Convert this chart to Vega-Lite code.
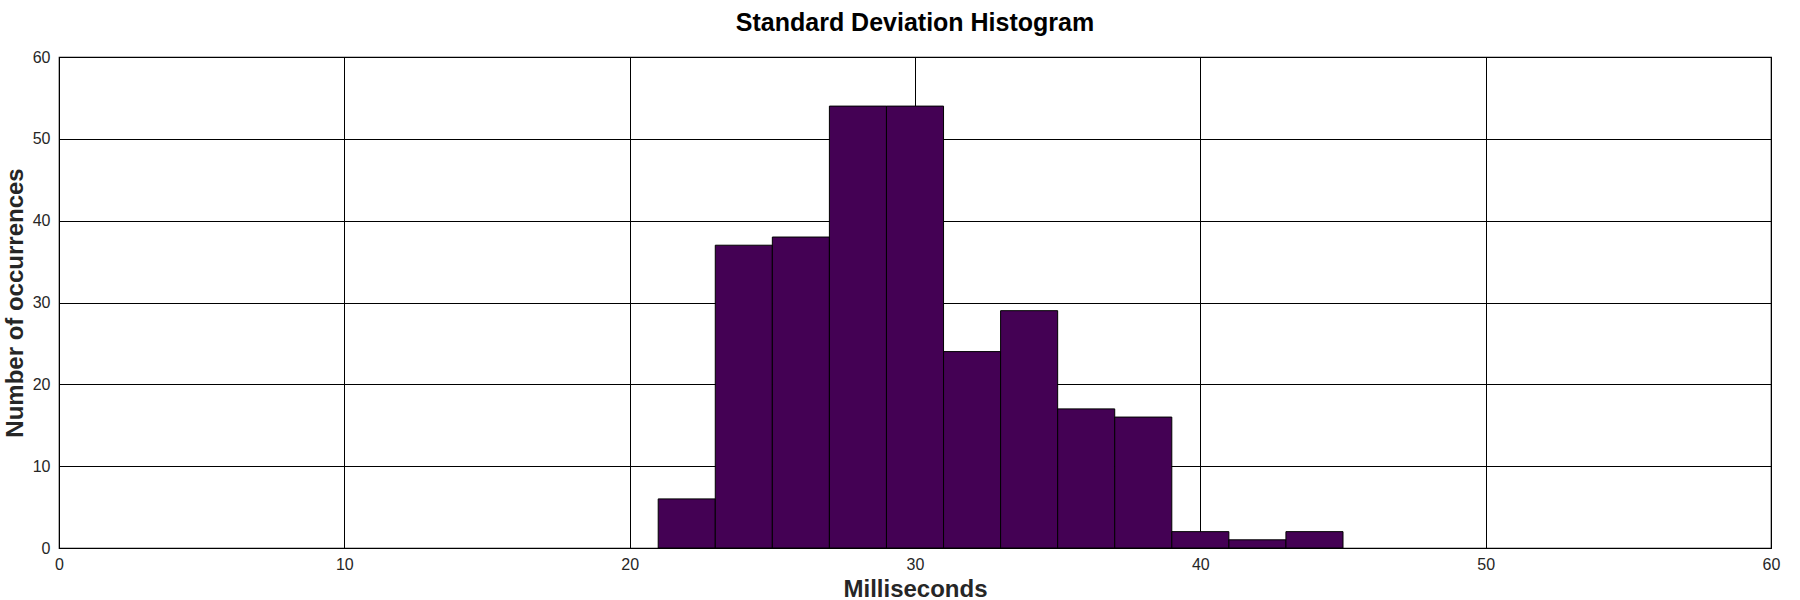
{
  "$schema": "https://vega.github.io/schema/vega-lite/v6.json",
  "width": 1712,
  "height": 491,
  "autosize": "none",
  "padding": {"left": 59, "top": 57, "right": 29, "bottom": 52},
  "background": "white",
  "title": {
    "text": "Standard Deviation Histogram",
    "font": "Liberation Sans",
    "fontSize": 25,
    "fontWeight": "bold",
    "color": "black",
    "anchor": "middle",
    "offset": 13
  },
  "config": {
    "view": {"stroke": "black", "strokeWidth": 1.2},
    "axis": {
      "labelFont": "Liberation Sans",
      "labelFontSize": 16,
      "labelColor": "#262626",
      "labelFlush": false,
      "titleFont": "Liberation Sans",
      "titleFontSize": 24,
      "titleFontWeight": "bold",
      "titleColor": "#262626",
      "gridColor": "black",
      "gridOpacity": 1,
      "gridWidth": 1,
      "domain": false,
      "ticks": false
    }
  },
  "data": {
    "values": [
      {"start": 21, "end": 23, "count": 6},
      {"start": 23, "end": 25, "count": 37},
      {"start": 25, "end": 27, "count": 38},
      {"start": 27, "end": 29, "count": 54},
      {"start": 29, "end": 31, "count": 54},
      {"start": 31, "end": 33, "count": 24},
      {"start": 33, "end": 35, "count": 29},
      {"start": 35, "end": 37, "count": 17},
      {"start": 37, "end": 39, "count": 16},
      {"start": 39, "end": 41, "count": 2},
      {"start": 41, "end": 43, "count": 1},
      {"start": 43, "end": 45, "count": 2}
    ]
  },
  "mark": {"type": "rect", "fill": "#440154", "stroke": "black", "strokeWidth": 1},
  "encoding": {
    "x": {
      "field": "start",
      "type": "quantitative",
      "title": "Milliseconds",
      "scale": {"domain": [0, 60], "nice": false},
      "axis": {"values": [0, 10, 20, 30, 40, 50, 60], "labelPadding": 8, "titlePadding": 5}
    },
    "x2": {"field": "end"},
    "y": {
      "field": "count",
      "type": "quantitative",
      "title": "Number of occurrences",
      "scale": {"domain": [0, 60], "nice": false},
      "axis": {"values": [0, 10, 20, 30, 40, 50, 60], "labelPadding": 9, "titlePadding": 5}
    },
    "y2": {"datum": 0}
  }
}
